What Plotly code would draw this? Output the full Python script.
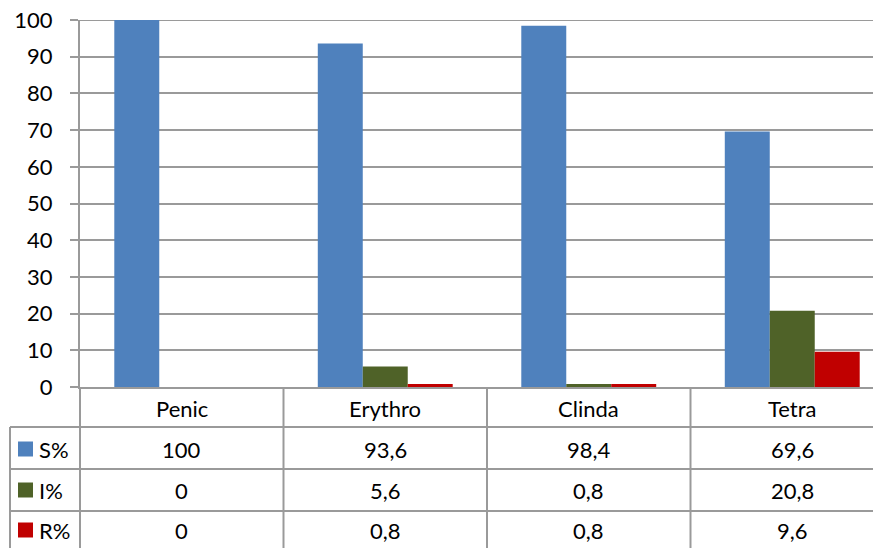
import plotly.graph_objects as go

categories = ["Penic", "Erythro", "Clinda", "Tetra"]
series_names = ["S%", "I%", "R%"]
s_values = [100, 93.6, 98.4, 69.6]
i_values = [0, 5.6, 0.8, 20.8]
r_values = [0, 0.8, 0.8, 9.6]
series_values = [s_values, i_values, r_values]
colors = ["#4F81BD", "#4F6228", "#C00000"]
y_ticks = list(range(0, 101, 10))

# the page body adds an 8px offset; lay the figure out in screen pixels
OFF = 8
SW, SH = 881, 548
W, H = SW - OFF, SH - OFF
L_s, T_s, B_s = 80, 20, 387  # screen px: plot left, plot top, plot bottom
L, T = L_s - OFF, T_s - OFF
B = H - (B_s - OFF)
plot_w = W - L
plot_h = H - T - B
cat_w = 203.5
x_max = -0.5 + plot_w / cat_w
FONT = "Lato"
FS = 22
LINE = "#9a9a9a"


def py(p):
    return (B_s - p) / plot_h


def px(p):
    return (p - L_s) / plot_w


def fmt(v):
    s = ("%g" % v)
    return s.replace(".", ",")


fig = go.Figure()
xs = list(range(len(categories)))
for name, vals, col in zip(series_names, series_values, colors):
    fig.add_trace(go.Bar(x=xs, y=vals, name=name, marker=dict(color=col, line=dict(width=0)),
                         showlegend=False))

shapes = []
ann = []
# top gridline (at the max of the value axis)
shapes.append(dict(type="line", xref="paper", yref="y", x0=0, x1=1, y0=y_ticks[-1],
                   y1=y_ticks[-1], layer="below", line=dict(color=LINE, width=2)))
row_edges = [387, 427, 469, 511, 560]
for p in row_edges[1:4]:
    shapes.append(dict(type="line", xref="paper", yref="paper", x0=px(10), x1=1.0,
                       y0=py(p), y1=py(p), line=dict(color=LINE, width=2)))
shapes.append(dict(type="line", xref="paper", yref="paper", x0=0, x1=0,
                   y0=py(387), y1=py(560), line=dict(color=LINE, width=2)))
shapes.append(dict(type="line", xref="paper", yref="paper", x0=px(10), x1=px(10),
                   y0=py(427), y1=py(560), line=dict(color=LINE, width=2)))
for i in range(len(categories) - 1):
    shapes.append(dict(type="line", xref="x", yref="paper", x0=i + 0.5, x1=i + 0.5,
                       y0=py(387), y1=py(560), line=dict(color=LINE, width=2)))

for i, c in enumerate(categories):
    ann.append(dict(x=i, y=py(408), xref="x", yref="paper",
                    xanchor="center", yanchor="middle",
                    text=c, showarrow=False, font=dict(size=FS, color="black", family=FONT)))
row_centers = [449, 490, 530]
for r, (name, vals, col) in enumerate(zip(series_names, series_values, colors)):
    yc = py(row_centers[r])
    for i, v in enumerate(vals):
        ann.append(dict(x=i, y=yc, xref="x", yref="paper", text=fmt(v), showarrow=False,
                        xanchor="center", yanchor="middle",
                        font=dict(size=FS, color="black", family=FONT)))
    shapes.append(dict(type="rect", xref="paper", yref="paper", x0=px(18), x1=px(33),
                       y0=yc - 7.5 / plot_h, y1=yc + 7.5 / plot_h, fillcolor=col,
                       line=dict(width=0)))
    ann.append(dict(x=px(37), y=yc, xref="paper", yref="paper", text=name, showarrow=False,
                    xanchor="left", yanchor="middle",
                    font=dict(size=FS, color="black", family=FONT)))

fig.update_layout(
    width=W, height=H,
    margin=dict(l=L, r=0, t=T, b=B, autoexpand=False),
    paper_bgcolor="white", plot_bgcolor="white",
    barmode="group", bargap=0.337, bargroupgap=0,
    shapes=shapes, annotations=ann,
    font=dict(family=FONT, color="black"),
    xaxis=dict(range=[-0.5, x_max], showticklabels=False, showgrid=False, zeroline=False,
               showline=True, linecolor=LINE, linewidth=2, ticks="", automargin=False),
    yaxis=dict(range=[0, 100], tickvals=y_ticks, showgrid=True, gridcolor=LINE, gridwidth=2,
               zeroline=False, showline=True, linecolor=LINE, linewidth=2,
               ticks="outside", ticklen=8, tickcolor=LINE, tickwidth=2, automargin=False,
               ticklabeloverflow="allow",
               tickfont=dict(size=FS, color="black", family=FONT), ticklabelstandoff=13),
)

fig.write_html("out.html")
